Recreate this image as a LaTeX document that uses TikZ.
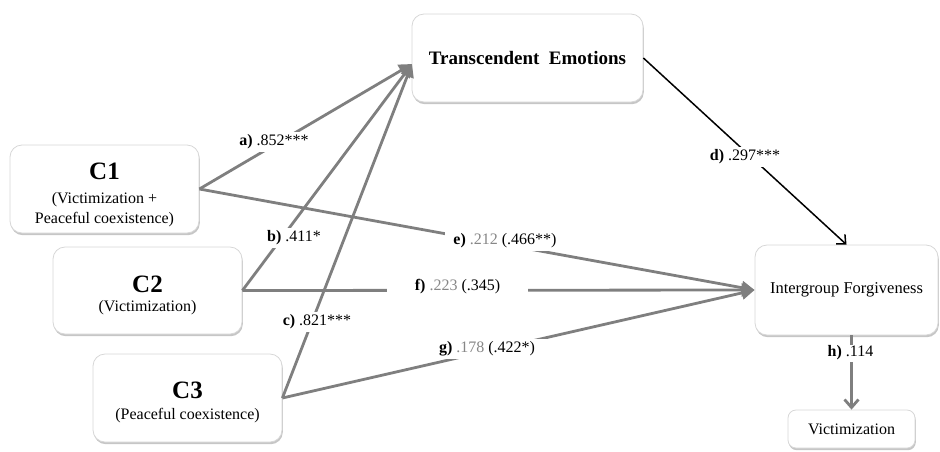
\documentclass[tikz,border=0pt]{standalone}
\usepackage{fontspec}
\setmainfont{Liberation Serif}
\usetikzlibrary{arrows.meta,shadows,calc}
\definecolor{linegray}{RGB}{127,127,127}
\definecolor{numgray}{RGB}{135,135,135}
\definecolor{bordergray}{RGB}{215,215,215}
\newcommand{\bigC}[2]{{\fontsize{25}{26}\selectfont\bfseries\rule{0pt}{#2pt}#1}}
\begin{document}
\begin{tikzpicture}[x=1pt,y=-1pt,
  box/.style={draw=bordergray, line width=0.8pt, fill=white, rounded corners=12pt,
    drop shadow={shadow xshift=0.8pt, shadow yshift=-2.2pt, fill=black!50, opacity=0.45},
    inner sep=0pt, align=center},
  lab/.style={fill=white, inner sep=0pt, minimum height=20pt, font=\fontsize{16}{19}\selectfont},
  gline/.style={draw=linegray, line width=2.8pt},
  garrow/.style={gline, -{Triangle[length=13pt,width=13pt]}},
  darrow/.style={draw=black, line width=1.5pt, -{Straight Barb[length=7pt,width=13pt]}},
  harrow/.style={gline, -{Straight Barb[length=8pt,width=14pt]}},
]
\useasboundingbox (0,0) rectangle (940,451);

% boxes
\node[box, minimum width=189pt, minimum height=88pt, font=\fontsize{16}{20}\selectfont] (c1) at (104.5,189)
  {\bigC{C1}{27.5}\\[4pt](Victimization +\\Peaceful coexistence)};
\node[box, minimum width=189pt, minimum height=87pt, font=\fontsize{16}{19.5}\selectfont] (c2) at (147.5,290.5)
  {\bigC{C2}{26}\\(Victimization)};
\node[box, minimum width=189pt, minimum height=88pt, font=\fontsize{16}{19.5}\selectfont] (c3) at (187.5,398)
  {\bigC{C3}{24.5}\\[1.5pt](Peaceful coexistence)};
\node[box, minimum width=231pt, minimum height=88pt, font=\fontsize{19}{22}\selectfont\bfseries] (te) at (527.5,58)
  {Transcendent\hspace{0.25em} Emotions};
\node[box, minimum width=183pt, minimum height=90pt, font=\fontsize{16.5}{19}\selectfont] (ig) at (846.5,290)
  {Intergroup Forgiveness};
\node[box, minimum width=127pt, minimum height=38pt, rounded corners=8pt, font=\fontsize{16}{19}\selectfont] (vic) at (851.5,429)
  {Victimization};

\coordinate (teIn) at (412,64);

% connectors
\draw[garrow] (c1.east) -- (teIn);
\draw[garrow] (c2.east) -- (teIn);
\draw[garrow] (c3.east) -- (teIn);
\draw[garrow] (c1.east) -- (ig.west);
\draw[garrow] (c2.east) -- (ig.west);
\draw[garrow] (c3.east) -- (ig.west);
\draw[darrow] (te.east) -- (ig.north);
\draw[harrow] (ig.south -| vic.north) -- (vic.north);

% labels
\node[lab, minimum width=88pt] (la) at (274,142) {\textbf{a)} .852***};
\node[lab, minimum width=85pt] (lb) at (294,238) {\textbf{b)} .411*};
\node[lab, minimum width=85pt] (lc) at (317,322) {\textbf{c)} .821***};
\node[lab, minimum width=86pt] (ld) at (745,157) {\textbf{d)} .297***};
\node[lab, minimum width=120pt] (le) at (505,241) {\textbf{e)} \textcolor{numgray}{.212} (.466**)};
\node[lab, minimum width=141pt] (lf) at (457.5,287) {\textbf{f)} \textcolor{numgray}{.223} (.345)};
\node[lab, minimum width=142pt] (lg) at (487,349) {\textbf{g)} \textcolor{numgray}{.178} (.422*)};
\node[lab, minimum width=55pt, minimum height=17pt] (lh) at (850.5,353) {\textbf{h)} .114};
\end{tikzpicture}
\end{document}
